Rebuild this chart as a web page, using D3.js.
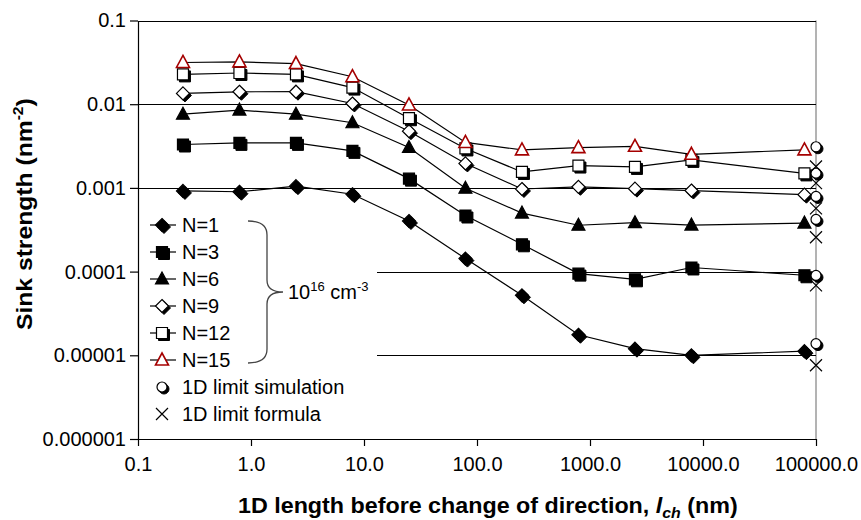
<!DOCTYPE html>
<html><head><meta charset="utf-8">
<script src="https://cdn.jsdelivr.net/npm/d3@7"></script>
<style>
body{margin:0;background:#fff;}
svg text{font-family:"Liberation Sans",Arial,sans-serif;}
</style></head>
<body><svg id="c" width="861" height="520"></svg>
<script>
const xVals = [0.25, 0.79, 2.5, 7.9, 25, 79, 250, 790, 2500, 7900, 79000];
const seriesNames = ["N=1","N=3","N=6","N=9","N=12","N=15"];
const n1  = [0.00092, 0.00090, 0.00105, 0.00084, 0.000402, 0.000143, 0.0000521, 0.0000176, 0.000012, 0.0000100, 0.0000112];
const n3  = [0.0033, 0.00345, 0.00345, 0.00277, 0.00129, 0.000468, 0.000212, 0.0000946, 0.0000809, 0.000112, 0.0000904];
const n6  = [0.0076, 0.0085, 0.0076, 0.0060, 0.00304, 0.00099, 0.00050, 0.000358, 0.000384, 0.00036, 0.00038];
const n9  = [0.01345, 0.01407, 0.0141, 0.0102, 0.00476, 0.00196, 0.00097, 0.00103, 0.00098, 0.00093, 0.00083];
const n12 = [0.0227, 0.0236, 0.0227, 0.0158, 0.0068, 0.00296, 0.00155, 0.00185, 0.00178, 0.00216, 0.00149];
const n15 = [0.0315, 0.032, 0.0306, 0.0213, 0.0098, 0.00349, 0.00285, 0.00303, 0.00314, 0.00252, 0.00285];
const limitX = 100000;
const limitSim = [0.0000138, 0.00009, 0.00042, 0.00079, 0.0015, 0.0031];
const limitFormula = [0.0000076, 0.0000686, 0.000257, 0.00057, 0.00114, 0.0018];
const xTicks = [0.1, 1, 10, 100, 1000, 10000, 100000];
const xTickLabels = ["0.1","1.0","10.0","100.0","1000.0","10000.0","100000.0"];
const yTicks = [0.1, 0.01, 0.001, 0.0001, 0.00001, 0.000001];
const yTickLabels = ["0.1","0.01","0.001","0.0001","0.00001","0.000001"];
const fullGrid = [0.1, 0.01, 0.001];
const partialGrid = [0.0001, 0.00001];

const svg = d3.select("#c");
const L=138, R=816, T=20.5, B=439;
const x = d3.scaleLog().domain([0.1,100000]).range([L,R]);
const y = d3.scaleLog().domain([0.000001,0.1]).range([B,T]);

// grid
svg.append("line").attr("x1",R).attr("x2",R).attr("y1",T).attr("y2",B).attr("stroke","#808080").attr("stroke-width",1.2);
svg.selectAll(".gf").data(fullGrid).join("line").attr("x1",L).attr("x2",R)
  .attr("y1",d=>Math.round(y(d))+0.5).attr("y2",d=>Math.round(y(d))+0.5).attr("stroke","#000").attr("stroke-width",1.2);
svg.selectAll(".gp").data(partialGrid).join("line").attr("x1",377).attr("x2",R)
  .attr("y1",d=>Math.round(y(d))+0.5).attr("y2",d=>Math.round(y(d))+0.5).attr("stroke","#000").attr("stroke-width",1.2);

// axes
const ax = svg.append("g").attr("transform",`translate(0,${B})`)
  .call(d3.axisBottom(x).tickValues(xTicks).tickFormat((d,i)=>xTickLabels[i]).tickSize(7).tickSizeOuter(0).tickPadding(11));
const ay = svg.append("g").attr("transform",`translate(${L},0)`)
  .call(d3.axisLeft(y).tickValues(yTicks).tickFormat((d,i)=>yTickLabels[i]).tickSize(8).tickSizeOuter(0).tickPadding(4));
[ax,ay].forEach(g=>{g.selectAll("text").attr("font-size",20).attr("fill","#000").attr("font-family",'"Liberation Sans",Arial,sans-serif');
  g.selectAll("line,path").attr("stroke","#000").attr("stroke-width",1.2);});

// marker shapes
function shape(type){
  switch(type){
    case "diamond": return "M0,-6.5L6.5,0L0,6.5L-6.5,0Z";
    case "square": return "M-5.5,-5.5H5.5V5.5H-5.5Z";
    case "triangle": return "M0,-7L6.5,5L-6.5,5Z";
    case "circle": return "M5,0A5,5 0 1,1 -5,0A5,5 0 1,1 5,0Z";
    case "cross": return "M-6,-6L6,6M6,-6L-6,6";
  }
}
const styles = [
  {type:"diamond", fill:"#000", stroke:"#000", shadow:true},
  {type:"square", fill:"#000", stroke:"#000", shadow:true},
  {type:"triangle", fill:"#000", stroke:"#000", shadow:false},
  {type:"diamond", fill:"#fff", stroke:"#000", shadow:true},
  {type:"square", fill:"#fff", stroke:"#000", shadow:true},
  {type:"triangle", fill:"#fff", stroke:"#a50000", shadow:false, sw:1.6}
];
function marker(g, st, cx, cy){
  if(st.shadow){
    g.append("path").attr("d",shape(st.type)).attr("transform",`translate(${cx+2},${cy+2})`).attr("fill","#000").attr("stroke","#000");
  }
  g.append("path").attr("d",shape(st.type)).attr("transform",`translate(${cx},${cy})`)
    .attr("fill",st.fill).attr("stroke",st.stroke).attr("stroke-width",st.sw||1.2);
}

const allSeries = [n1,n3,n6,n9,n12,n15];
const line = d3.line().x((d,i)=>x(xVals[i])).y(d=>y(d));
const gLines = svg.append("g"), gMarks = svg.append("g");
allSeries.forEach((s,k)=>{
  gLines.append("path").attr("d",line(s)).attr("fill","none").attr("stroke","#000").attr("stroke-width",1.2);
});
allSeries.forEach((s,k)=>{
  s.forEach((v,i)=>marker(gMarks, styles[k], x(xVals[i]), y(v)));
});
// 1D limit
const simSt = {type:"circle", fill:"#fff", stroke:"#000", shadow:true};
limitSim.forEach(v=>marker(gMarks, simSt, x(limitX), y(v)));
limitFormula.forEach(v=>gMarks.append("path").attr("d",shape("cross")).attr("transform",`translate(${x(limitX)},${y(v)})`).attr("stroke","#000").attr("stroke-width",1.2).attr("fill","none"));

// legend
const lg = svg.append("g");
const ly0 = 225, ldy = 27;
seriesNames.forEach((n,k)=>{
  const yy = ly0 + k*ldy;
  lg.append("line").attr("x1",150).attr("x2",176).attr("y1",yy).attr("y2",yy).attr("stroke","#000").attr("stroke-width",1.2);
  marker(lg, styles[k], 162, yy);
  lg.append("text").attr("x",182).attr("y",yy+7).attr("font-size",20).text(n);
});
marker(lg, simSt, 162, ly0+6*ldy);
lg.append("text").attr("x",182).attr("y",ly0+6*ldy+7).attr("font-size",20).text("1D limit simulation");
lg.append("path").attr("d",shape("cross")).attr("transform",`translate(162,${ly0+7*ldy})`).attr("stroke","#000").attr("stroke-width",1.2);
lg.append("text").attr("x",182).attr("y",ly0+7*ldy+7).attr("font-size",20).text("1D limit formula");

// brace
const bt=221, bb=363, bm=(bt+bb)/2, bx0=248, bx1=267, bx2=283;
svg.append("path").attr("fill","none").attr("stroke","#444").attr("stroke-width",1.3)
  .attr("d",`M${bx0},${bt} Q${bx1},${bt} ${bx1},${bt+14} L${bx1},${bm-12} Q${bx1},${bm} ${bx2},${bm} Q${bx1},${bm} ${bx1},${bm+12} L${bx1},${bb-14} Q${bx1},${bb} ${bx0},${bb}`);
const bl = svg.append("text").attr("x",288).attr("y",bm+7).attr("font-size",20);
bl.append("tspan").text("10");
bl.append("tspan").attr("dy",-8).attr("font-size",13).text("16");
bl.append("tspan").attr("dy",8).text(" cm");
bl.append("tspan").attr("dy",-8).attr("font-size",13).text("-3");

// axis titles
const xt = svg.append("text").attr("x",0).attr("y",0).attr("font-size",22).attr("font-weight","bold");
xt.append("tspan").text("1D length before change of direction, ");
xt.append("tspan").attr("font-style","italic").text("l");
xt.append("tspan").attr("font-style","italic").attr("font-size",15).attr("dy",5).text("ch");
xt.append("tspan").attr("dy",-5).text(" (nm)");
const xw = xt.node().getBBox().width;
xt.attr("transform",`translate(238,513) scale(${500/xw},1)`);

const yt = svg.append("text").attr("x",0).attr("y",0).attr("font-size",22).attr("font-weight","bold");
yt.append("tspan").text("Sink strength (nm");
yt.append("tspan").attr("font-size",14).attr("dy",-9).text("-2");
yt.append("tspan").attr("dy",9).text(")");
const yw = yt.node().getBBox().width;
yt.attr("transform",`translate(32,330) rotate(-90) scale(${232/yw},1)`);
</script></body></html>
